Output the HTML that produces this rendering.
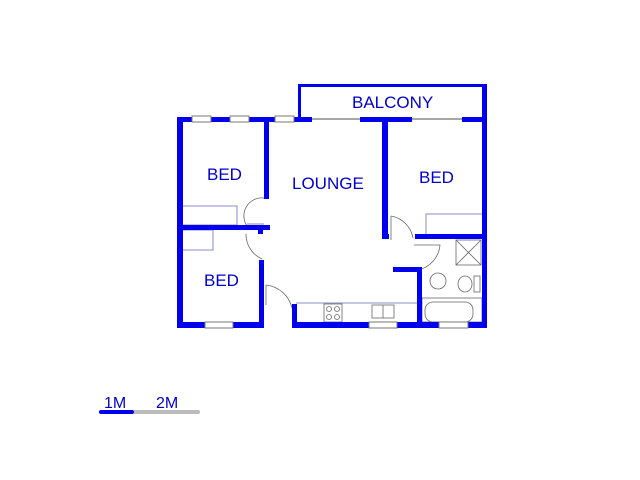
<!DOCTYPE html>
<html><head><style>html,body{margin:0;padding:0;background:#fff;}svg{display:block}</style></head>
<body>
<svg width="640" height="480" viewBox="0 0 640 480" xmlns="http://www.w3.org/2000/svg" font-family="Liberation Sans, sans-serif">
<rect width="640" height="480" fill="#fff"/>
<g fill="none" stroke="#8888cc" stroke-width="1">
<rect x="181" y="206" width="56" height="19"/>
<rect x="181" y="230" width="32" height="20"/>
<rect x="426" y="214" width="57" height="21"/>
<line x1="296" y1="303" x2="418" y2="303"/>
</g>
<g fill="none" stroke="#666" stroke-width="0.8">
<rect x="324" y="304" width="18" height="18"/>
<circle cx="329" cy="309" r="2.5"/><circle cx="337" cy="309" r="2.5"/><circle cx="329" cy="317" r="2.5"/><circle cx="337" cy="317" r="2.5"/>
<rect x="372" y="305" width="22" height="13"/><line x1="383" y1="305" x2="383" y2="318"/>
<rect x="456" y="240" width="25" height="25"/><line x1="456" y1="240" x2="481" y2="265"/><line x1="481" y1="240" x2="456" y2="265"/>
<circle cx="438" cy="281" r="8"/>
<ellipse cx="465" cy="284" rx="7" ry="8"/><rect x="474" y="276" width="6" height="16"/>
<rect x="425" y="302" width="48" height="20" rx="8"/>
<rect x="422" y="298" width="60" height="24"/>
<path d="M264 198 A18 18 0 0 0 247 226"/>
<path d="M247 224 L264 224"/>
<path d="M246 234 A27 27 0 0 0 262 259"/>
<path d="M266 285 A30 30 0 0 1 292 308"/>
<path d="M266 285 L266 305"/>
<path d="M391 216 A27 27 0 0 1 413 238"/>
<path d="M391 216 L391 240"/>
<path d="M414 245 L440 245 A28 28 0 0 1 418 270"/>
</g>
<g fill="#0000ee">
<rect x="177" y="117" width="6" height="210"/>
<rect x="177" y="117" width="121" height="5"/>
<rect x="295" y="117" width="17" height="5"/>
<rect x="360" y="117" width="52" height="5"/>
<rect x="462" y="117" width="24" height="5"/>
<rect x="298" y="84" width="188" height="3"/>
<rect x="298" y="84" width="3" height="36"/>
<rect x="482" y="84" width="5" height="243"/>
<rect x="264" y="122" width="5" height="77"/>
<rect x="177" y="225" width="93" height="5"/>
<rect x="258" y="230" width="5" height="4"/>
<rect x="259" y="260" width="5" height="67"/>
<rect x="177" y="322" width="87" height="6"/>
<rect x="292" y="322" width="195" height="6"/>
<rect x="292" y="304" width="5" height="24"/>
<rect x="382" y="122" width="6" height="117"/>
<rect x="382" y="234" width="7" height="5"/>
<rect x="415" y="234" width="72" height="5"/>
<rect x="417" y="267" width="5" height="60"/>
<rect x="393" y="267" width="29" height="5"/>
</g>
<g fill="#fff" stroke="#777" stroke-width="1">
<rect x="192" y="116" width="19" height="6"/><rect x="230" y="116" width="19" height="6"/><rect x="275" y="116" width="19" height="6"/>
<rect x="205" y="322" width="28" height="6"/><rect x="369" y="322" width="28" height="6"/><rect x="439" y="322" width="29" height="6"/>
</g>
<g stroke="#888" stroke-width="1.5">
<line x1="312" y1="119" x2="360" y2="119"/><line x1="412" y1="119" x2="462" y2="119"/>
</g>
<g fill="#0000cc" font-size="17">
<text x="352" y="108">BALCONY</text>
<text x="207" y="180">BED</text>
<text x="292" y="189">LOUNGE</text>
<text x="419" y="183">BED</text>
<text x="204" y="286">BED</text>
<text x="104" y="408" font-size="16">1M</text>
<text x="156" y="408" font-size="16">2M</text>
</g>
<rect x="133" y="410" width="67" height="4" rx="2" fill="#bbb"/>
<rect x="99" y="410" width="35" height="4" rx="2" fill="#0000ee"/>
</svg>
</body></html>
